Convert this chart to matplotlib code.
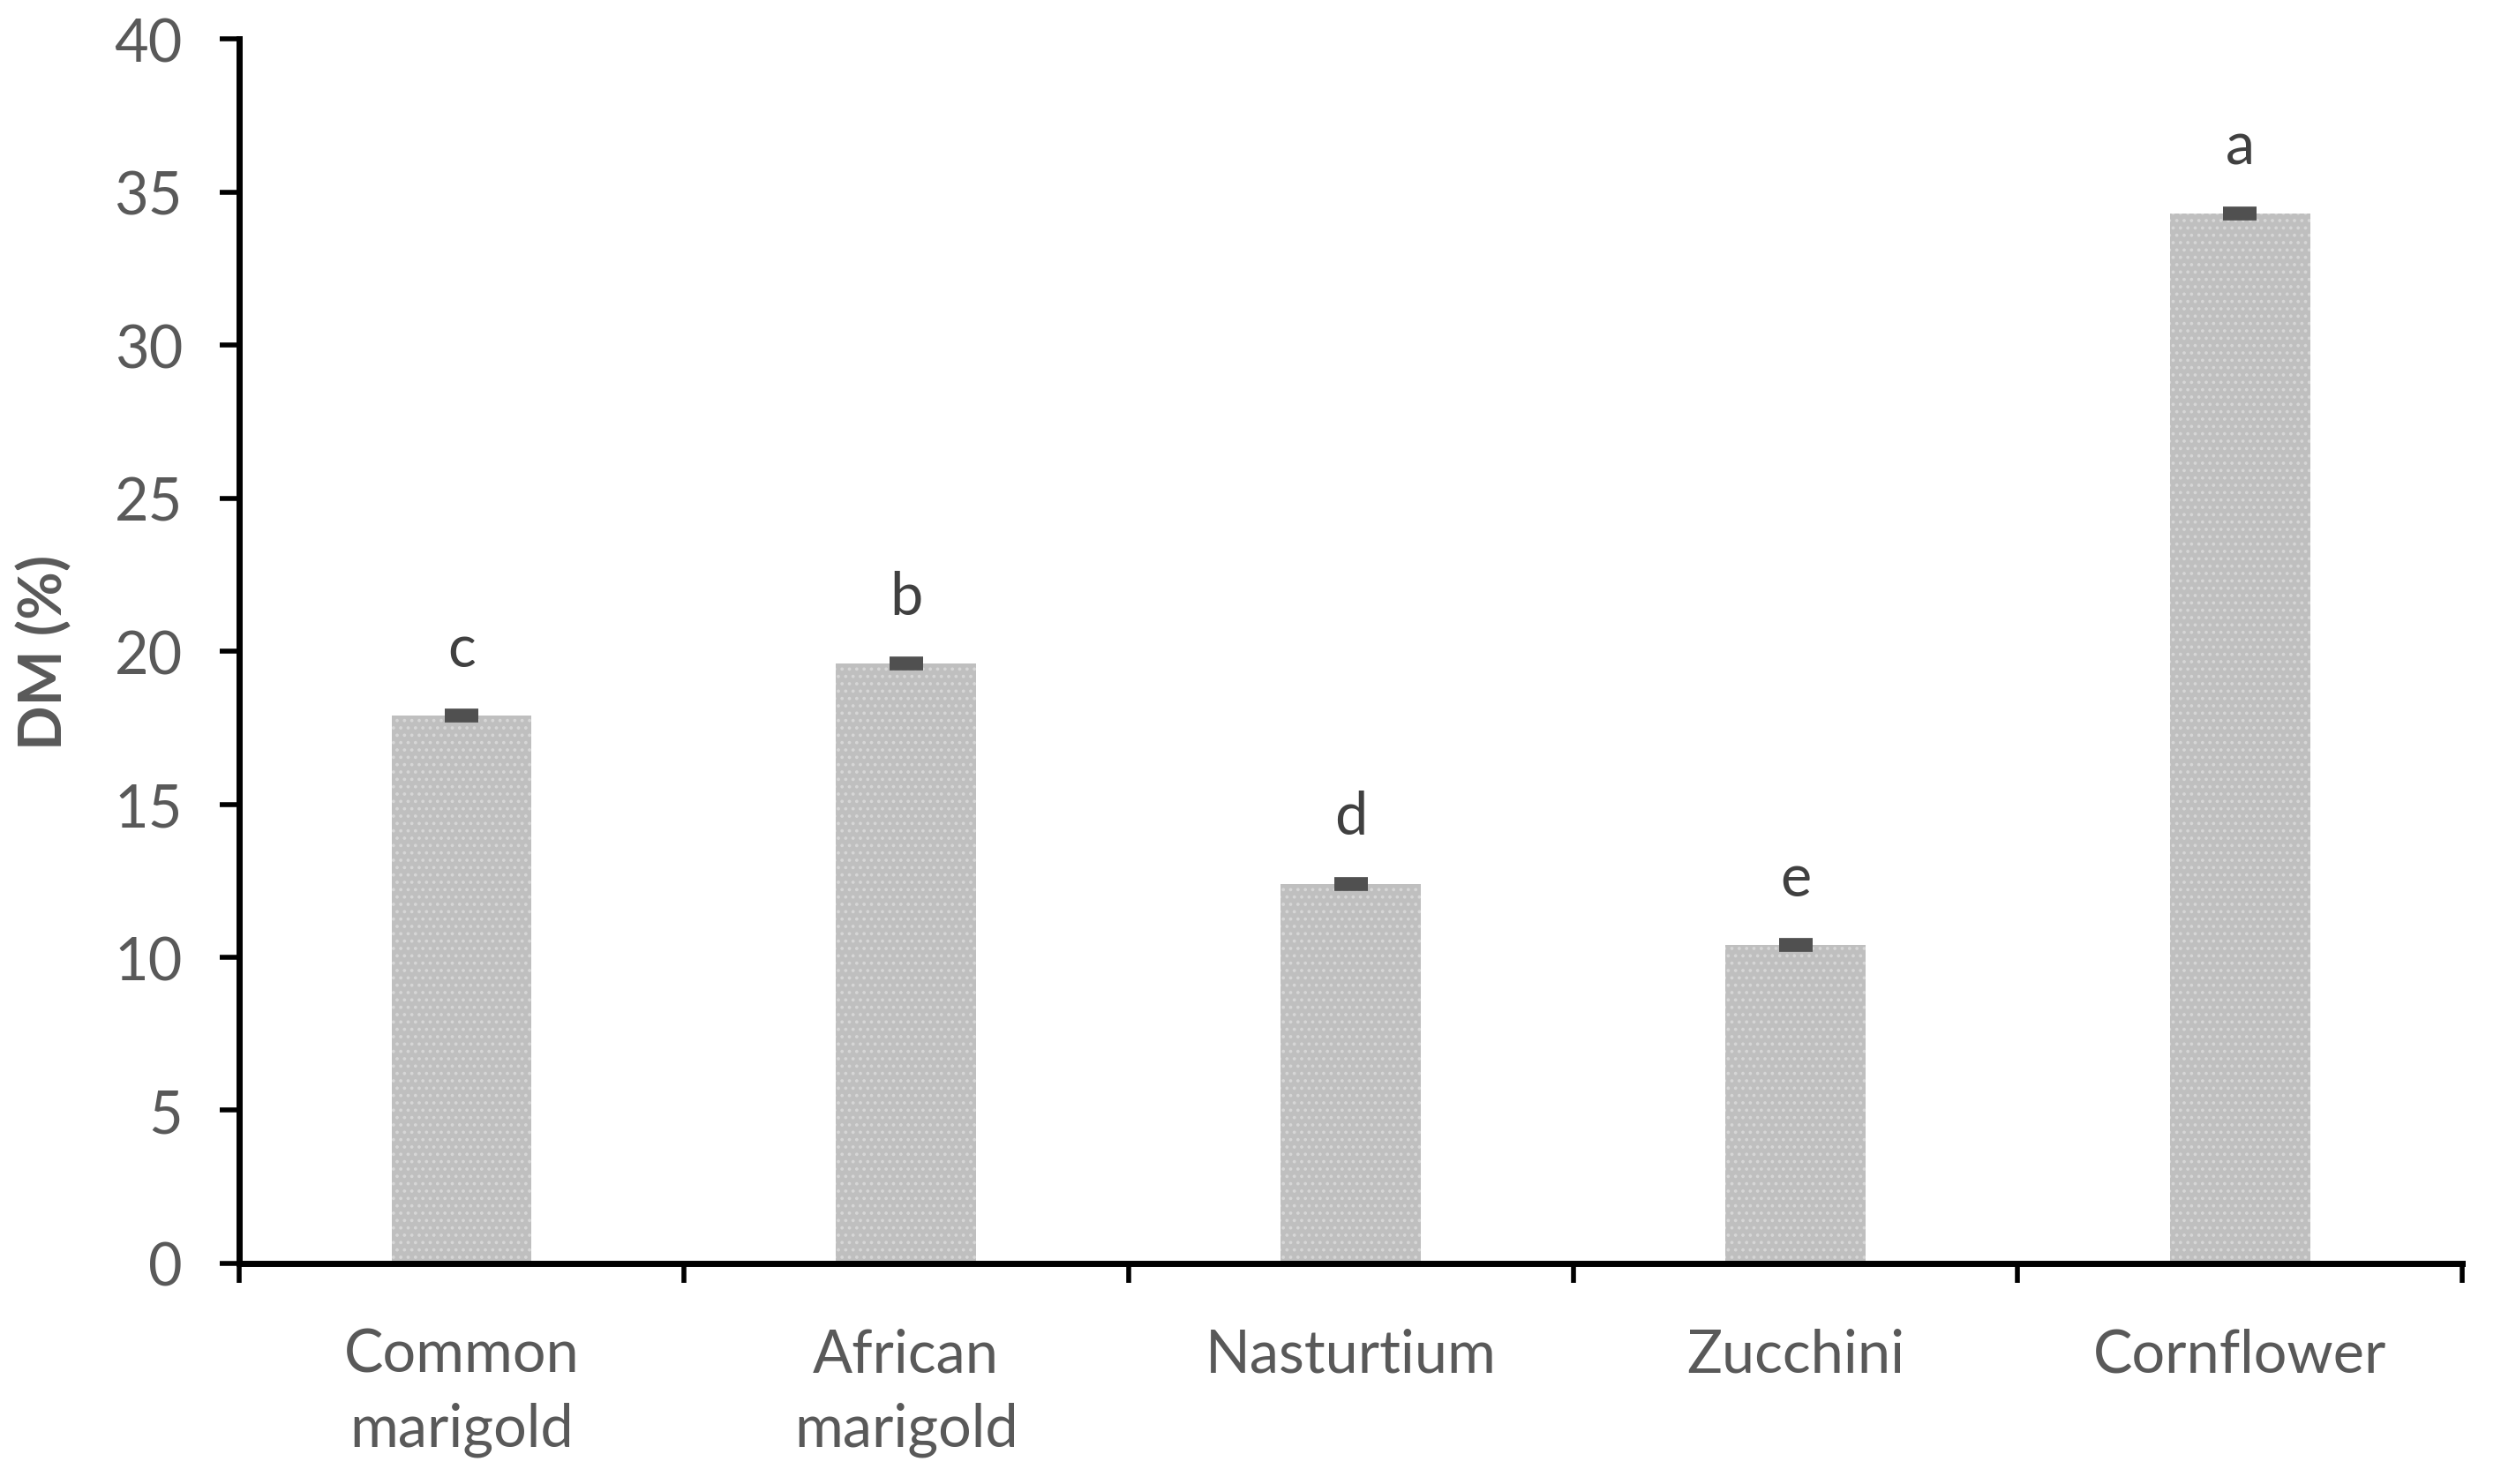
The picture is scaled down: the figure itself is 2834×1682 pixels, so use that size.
import matplotlib.pyplot as plt
import matplotlib as mpl

categories = ['Common\nmarigold', 'African\nmarigold', 'Nasturtium', 'Zucchini', 'Cornflower']
dm_values = [17.9, 19.6, 12.4, 10.4, 34.3]
dm_errors = [0.08, 0.08, 0.08, 0.08, 0.08]
letters = ['c', 'b', 'd', 'e', 'a']
y_ticks = [0, 5, 10, 15, 20, 25, 30, 35, 40]

plt.rcParams['font.family'] = ['Lato', 'DejaVu Sans']
mpl.rcParams['hatch.color'] = '#d6d6d6'
mpl.rcParams['hatch.linewidth'] = 1.5

text_col = '#595959'
fs = 48

fig = plt.figure(figsize=(28.34, 16.83), dpi=100)
ax = fig.add_axes([0.0956, 0.1486, 0.889, 0.8244])

x = list(range(len(categories)))
ax.bar(x, dm_values, width=0.315, color='#bfbfbf', hatch='..', linewidth=0, zorder=2)
ax.errorbar(x, dm_values, yerr=dm_errors, fmt='none', ecolor='#505050',
            elinewidth=3, capsize=14, capthick=7, zorder=3)

for xi, v, e, lab in zip(x, dm_values, dm_errors, letters):
    ax.annotate(lab, (xi, v + e), xytext=(0, 30), textcoords='offset points',
                ha='center', va='bottom', fontsize=fs, color='#404040')

ax.set_xlim(-0.5, len(categories) - 0.5)
ax.set_ylim(0, 40)
ax.set_yticks(y_ticks)
ax.set_yticklabels([str(t) for t in y_ticks], color=text_col, fontsize=fs)

# ticks on category boundaries, labels in the middle
ax.set_xticks([i - 0.5 for i in range(len(categories) + 1)])
ax.set_xticklabels([])
ax.set_xticks(x, minor=True)
ax.set_xticklabels(categories, minor=True, color=text_col, fontsize=fs, linespacing=1.45)
ax.tick_params(axis='x', which='minor', length=0, pad=52)
ax.tick_params(axis='x', which='major', length=16, width=4, direction='out')
ax.tick_params(axis='y', length=16, width=4, direction='out', pad=30)

for s in ['top', 'right']:
    ax.spines[s].set_visible(False)
for s in ['left', 'bottom']:
    ax.spines[s].set_linewidth(5)

ax.set_ylabel('DM (%)', color=text_col, fontsize=fs, fontweight='bold', labelpad=34)

fig.savefig('out.png', dpi=100)
